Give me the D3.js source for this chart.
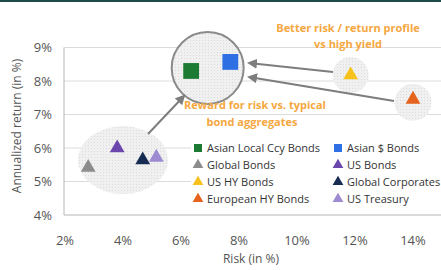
<!DOCTYPE html>
<html><head><meta charset="utf-8">
<script src="https://cdn.jsdelivr.net/npm/d3@7"></script>
<style>body{margin:0;background:#fff}svg{display:block;font-family:"Open Sans",sans-serif}</style>
</head><body><svg id="c" width="441" height="270"></svg>
<script>
const names = ["Asian Local Ccy Bonds","Asian $ Bonds","Global Bonds","US Bonds","US HY Bonds","Global Corporates","European HY Bonds","US Treasury"];
const risk  = [6.35, 7.7, 2.8, 3.8, 11.85, 4.68, 14.0, 5.15];
const ret   = [8.3, 8.57, 5.42, 6.0, 8.18, 5.64, 7.45, 5.72];
const shapes = ["square","square","tri","tri","tri","tri","tri","tri"];
const colors = ["#1d7a33","#2e6fe3","#8c8c8c","#6b47ad","#f6c21b","#172c52","#e5631c","#9d8ad0"];
const xTicks = [2,4,6,8,10,12,14];
const yTicks = [4,5,6,7,8,9];

const svg = d3.select("#c");
const x = d3.scaleLinear().domain([2,15]).range([65,442]);
const y = d3.scaleLinear().domain([4,9]).range([215,47.5]);
const L = 64, R = 441, B = 215;

svg.append("rect").attr("x",0).attr("y",0).attr("width",441).attr("height",2).attr("fill","#1d4b4a");

const defs = svg.append("defs");
const pat = defs.append("pattern").attr("id","dots").attr("width",3).attr("height",3).attr("patternUnits","userSpaceOnUse");
pat.append("rect").attr("width",3).attr("height",3).attr("fill","#f0f0f0");
pat.append("rect").attr("x",1).attr("y",1).attr("width",1).attr("height",1).attr("fill","#dcdcdc");
const mk = defs.append("marker").attr("id","ah").attr("viewBox","0 0 10 10").attr("refX",8).attr("refY",5)
  .attr("markerWidth",5).attr("markerHeight",5).attr("orient","auto");
mk.append("path").attr("d","M0,0L10,5L0,10z").attr("fill","#7d7d7d");

svg.append("g").selectAll("line").data(yTicks.filter(t=>t>4)).join("line")
  .attr("x1",L).attr("x2",R).attr("y1",d=>y(d)).attr("y2",d=>y(d))
  .attr("stroke","#dcdcdc").attr("stroke-width",1);

svg.append("ellipse").attr("cx",x(4.0)).attr("cy",y(5.64)).attr("rx",45).attr("ry",34).attr("fill","url(#dots)");
svg.append("circle").attr("cx",x(11.85)).attr("cy",y(8.18)).attr("r",18).attr("fill","url(#dots)");
svg.append("circle").attr("cx",x(14.0)).attr("cy",y(7.36)).attr("r",18.5).attr("fill","url(#dots)");
svg.append("circle").attr("cx",x(6.92)).attr("cy",y(8.39)).attr("r",36).attr("fill","url(#dots)")
  .attr("stroke","#8a8a8a").attr("stroke-width",2);

svg.append("line").attr("x1",L).attr("x2",L).attr("y1",y(9)).attr("y2",B).attr("stroke","#b5b5b5");
svg.append("line").attr("x1",L).attr("x2",R).attr("y1",B).attr("y2",B).attr("stroke","#b5b5b5");

svg.append("g").selectAll("text").data(yTicks).join("text")
  .attr("x",52).attr("y",d=>y(d)).attr("dy","0.36em").attr("text-anchor","end")
  .attr("font-size",13).attr("fill","#555").text(d=>d+"%");
svg.append("g").selectAll("text").data(xTicks).join("text")
  .attr("x",d=>x(d)).attr("y",240).attr("dy","0.36em").attr("text-anchor","middle")
  .attr("font-size",13).attr("fill","#555").text(d=>d+"%");

svg.append("text").attr("transform","translate(21,126) rotate(-90)").attr("text-anchor","middle")
  .attr("font-size",12).attr("fill","#555").text("Annualized return (in %)");
svg.append("text").attr("x",251).attr("y",263).attr("text-anchor","middle")
  .attr("font-size",12).attr("fill","#555").text("Risk (in %)");

const arrows = [[[148,134],[184,96]],[[333,72],[249,63]],[[394,101],[249,77]]];
svg.append("g").selectAll("line").data(arrows).join("line")
  .attr("x1",d=>d[0][0]).attr("y1",d=>d[0][1]).attr("x2",d=>d[1][0]).attr("y2",d=>d[1][1])
  .attr("stroke","#7d7d7d").attr("stroke-width",2).attr("marker-end","url(#ah)");

const ann = svg.append("g").attr("font-size",11).attr("font-weight","bold").attr("fill","#f5a740").attr("text-anchor","middle");
ann.append("text").attr("x",348).attr("y",32).text("Better risk / return profile");
ann.append("text").attr("x",348).attr("y",48).text("vs high yield");
ann.append("text").attr("x",255).attr("y",109).text("Reward for risk vs. typical");
ann.append("text").attr("x",252).attr("y",126).text("bond aggregates");

svg.append("rect").attr("x",191).attr("y",139).attr("width",250).attr("height",68).attr("fill","#fff");

svg.append("g").selectAll("path").data(names.map((n,i)=>i)).join("path")
  .attr("transform",i=>`translate(${x(risk[i])},${y(ret[i])})`)
  .attr("d",i=> shapes[i]==="square" ? d3.symbol(d3.symbolSquare,250)() : d3.symbol(d3.symbolTriangle,95)())
  .attr("fill",i=>colors[i]);

const lg = svg.append("g").attr("font-size",11).attr("fill","#333");
names.forEach((n,i)=>{
  const col = i%2, row = Math.floor(i/2);
  const lx = col===0 ? 198 : 338, ly = 148 + row*17;
  lg.append("path").attr("transform",`translate(${lx},${ly})`)
    .attr("d", shapes[i]==="square" ? d3.symbol(d3.symbolSquare,64)() : d3.symbol(d3.symbolTriangle,50)())
    .attr("fill",colors[i]);
  lg.append("text").attr("x",lx+9).attr("y",ly).attr("dy","0.36em").text(n);
});
</script></body></html>
